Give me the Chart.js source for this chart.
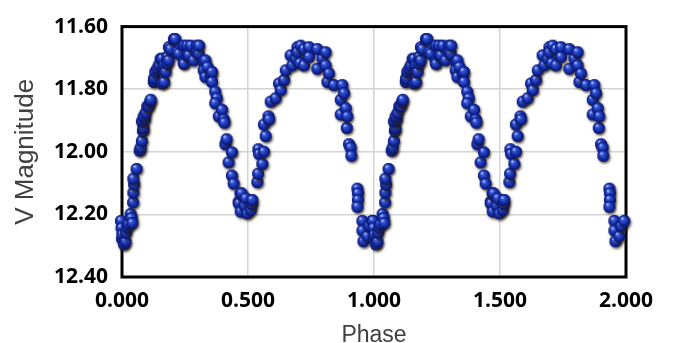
<!DOCTYPE html>
<html>
<head>
<meta charset="utf-8">
<title>V light curve</title>
<script src="https://cdn.jsdelivr.net/npm/chart.js@4/dist/chart.umd.min.js"></script>
<style>
  html, body { margin: 0; padding: 0; background: #fff; }
  #wrap { width: 675px; height: 343px; }
</style>
</head>
<body>
<div id="wrap"><canvas id="lc" width="675" height="343"></canvas></div>
<script>
// one cycle of phased V photometry (phase, magnitude)
const phase = [
  0.000, 0.002, 0.004, 0.005, 0.012, 0.018, 0.020, 0.025, 0.030, 0.038,
  0.042, 0.045, 0.048, 0.049, 0.052, 0.049, 0.062, 0.074, 0.078, 0.083,
  0.087, 0.089, 0.083, 0.094, 0.090, 0.098, 0.104, 0.110, 0.116, 0.118,
  0.130, 0.131, 0.136, 0.144, 0.150, 0.157, 0.163, 0.163, 0.169, 0.171,
  0.171, 0.177, 0.183, 0.184, 0.189, 0.190, 0.196, 0.210, 0.215, 0.223,
  0.229, 0.249, 0.250, 0.250, 0.262, 0.263, 0.269, 0.277, 0.288, 0.302,
  0.302, 0.308, 0.310, 0.329, 0.335, 0.328, 0.335, 0.343, 0.356, 0.361,
  0.361, 0.374, 0.380, 0.374, 0.388, 0.401, 0.408, 0.410, 0.414, 0.419,
  0.427, 0.440, 0.440, 0.447, 0.467, 0.468, 0.474, 0.478, 0.475, 0.490,
  0.495, 0.501, 0.515, 0.520, 0.521, 0.541, 0.544, 0.545, 0.548, 0.561,
  0.567, 0.567, 0.574, 0.585, 0.587, 0.594, 0.614, 0.627, 0.634, 0.647,
  0.654, 0.673, 0.680, 0.693, 0.700, 0.700, 0.710, 0.713, 0.726, 0.726,
  0.746, 0.746, 0.779, 0.779, 0.799, 0.812, 0.812, 0.819, 0.825, 0.845,
  0.872, 0.872, 0.878, 0.885, 0.892, 0.896, 0.898, 0.905, 0.911, 0.914,
  0.938, 0.940, 0.940, 0.938, 0.958, 0.958, 0.962, 0.977, 0.985, 0.997
];
const vMag = [
  12.224, 12.247, 12.282, 12.268, 12.299, 12.290, 12.262, 12.245, 12.235, 12.202,
  12.215, 12.231, 12.165, 12.134, 12.108, 12.089, 12.058, 12.000, 11.990, 11.969,
  11.937, 11.927, 11.906, 11.900, 11.890, 11.879, 11.858, 11.858, 11.843, 11.837,
  11.780, 11.769, 11.748, 11.738, 11.727, 11.706, 11.785, 11.706, 11.738, 11.780,
  11.727, 11.748, 11.722, 11.700, 11.711, 11.669, 11.675, 11.643, 11.643, 11.685,
  11.690, 11.717, 11.664, 11.722, 11.664, 11.695, 11.695, 11.664, 11.711, 11.664,
  11.685, 11.690, 11.664, 11.717, 11.711, 11.743, 11.764, 11.732, 11.758, 11.748,
  11.780, 11.811, 11.832, 11.848, 11.890, 11.869, 11.900, 11.910, 11.979, 11.963,
  12.037, 12.005, 12.079, 12.105, 12.163, 12.168, 12.136, 12.136, 12.194, 12.175,
  12.152, 12.200, 12.189, 12.170, 12.157, 12.100, 12.073, 11.995, 12.010, 12.042,
  12.003, 11.916, 11.953, 11.890, 11.900, 11.843, 11.832, 11.785, 11.806, 11.774,
  11.743, 11.695, 11.727, 11.706, 11.669, 11.685, 11.720, 11.664, 11.675, 11.727,
  11.669, 11.700, 11.675, 11.738, 11.706, 11.685, 11.727, 11.780, 11.753, 11.790,
  11.837, 11.884, 11.790, 11.816, 11.864, 11.927, 11.890, 11.979, 11.990, 12.016,
  12.121, 12.136, 12.157, 12.179, 12.224, 12.255, 12.289, 12.273, 12.240, 12.224
];
const cycles = [0, 1];
const xTicks = [0, 0.5, 1, 1.5, 2];
const yTicks = [11.6, 11.8, 12.0, 12.2, 12.4];

// plot box inside the 675x343 canvas
const BOX = { left: 122, top: 23, right: 626, bottom: 277 };

// shaded blue ball used as the point marker
function makeBall(r) {
  const size = Math.ceil(r * 2 + 6);
  const c = document.createElement('canvas');
  c.width = size; c.height = size;
  const g = c.getContext('2d');
  const cx = size / 2 - 1, cy = size / 2 - 1;

  g.save();
  g.shadowColor = 'rgba(45, 30, 0, 0.75)';
  g.shadowBlur = 2.5;
  g.shadowOffsetX = 1.2;
  g.shadowOffsetY = 1.8;
  g.beginPath();
  g.arc(cx, cy, r, 0, Math.PI * 2);
  g.fillStyle = '#0c1f86';
  g.fill();
  g.restore();

  const grad = g.createRadialGradient(cx - r * 0.35, cy - r * 0.45, r * 0.08, cx, cy, r);
  grad.addColorStop(0, '#b8c6ff');
  grad.addColorStop(0.22, '#3a5ad8');
  grad.addColorStop(0.6, '#1832ac');
  grad.addColorStop(1, '#07126a');
  g.beginPath();
  g.arc(cx, cy, r, 0, Math.PI * 2);
  g.fillStyle = grad;
  g.fill();
  return c;
}
const ball = makeBall(6);

const points = [];
cycles.forEach(k => {
  phase.forEach((p, i) => points.push({ x: p + k, y: vMag[i] }));
});

// heavy black frame, drawn under the points
const frame = {
  id: 'frame',
  beforeDatasetsDraw(chart) {
    const a = chart.chartArea, ctx = chart.ctx;
    ctx.save();
    ctx.strokeStyle = '#000';
    ctx.lineWidth = 3;
    ctx.strokeRect(a.left, a.top, a.right - a.left, a.bottom - a.top);
    ctx.restore();
  }
};

const tickFont = { family: '"Open Sans", sans-serif', size: 21, weight: 'bold' };

new Chart(document.getElementById('lc'), {
  type: 'scatter',
  data: {
    datasets: [{
      data: points,
      pointStyle: ball,
      pointRadius: 6,
      clip: false
    }]
  },
  options: {
    responsive: false,
    animation: false,
    events: [],
    layout: { padding: { left: 0, top: BOX.top, right: 675 - BOX.right, bottom: 0 } },
    plugins: { legend: { display: false }, tooltip: { enabled: false } },
    scales: {
      x: {
        type: 'linear',
        min: xTicks[0],
        max: xTicks[xTicks.length - 1],
        afterFit(s) { s.height = 343 - BOX.bottom; },
        afterBuildTicks(s) { s.ticks = xTicks.map(v => ({ value: v })); },
        grid: { color: '#d4d4d4', lineWidth: 1.5, drawTicks: false },
        border: { display: false },
        ticks: {
          color: '#000', font: tickFont, padding: 11, maxRotation: 0,
          callback: v => Number(v).toFixed(3)
        },
        title: {
          display: true, text: 'Phase', color: '#404040',
          font: { family: '"Liberation Sans", Arial, sans-serif', size: 23, lineHeight: 0.65 },
          padding: { top: 0, bottom: 0 }
        }
      },
      y: {
        type: 'linear',
        reverse: true,
        min: yTicks[0],
        max: yTicks[yTicks.length - 1],
        afterFit(s) { s.width = BOX.left; },
        afterBuildTicks(s) { s.ticks = yTicks.map(v => ({ value: v })); },
        grid: { color: '#d4d4d4', lineWidth: 1.5, drawTicks: false },
        border: { display: false },
        ticks: {
          color: '#000', font: tickFont, padding: 14,
          callback: v => Number(v).toFixed(2)
        },
        title: {
          display: true, text: 'V Magnitude', color: '#404040',
          font: { family: '"Liberation Sans", Arial, sans-serif', size: 26 },
          padding: { top: 10, bottom: 0 }
        }
      }
    }
  },
  plugins: [frame]
});
</script>
</body>
</html>
